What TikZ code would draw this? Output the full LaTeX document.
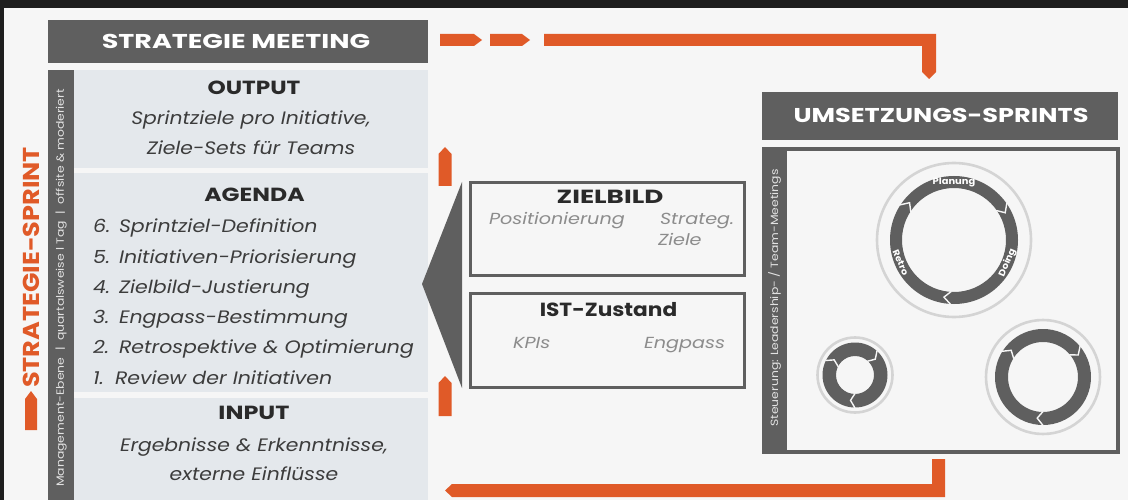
\documentclass[tikz,border=0pt]{standalone}
\usepackage{fontspec}
\usepackage{graphicx}
\setmainfont{Poppins}
\usetikzlibrary{calc}
\definecolor{bg}{HTML}{F6F6F6}
\definecolor{topbar}{HTML}{1E1E1E}
\definecolor{boxgray}{HTML}{5F5F5F}
\definecolor{panel}{HTML}{E4E8EC}
\definecolor{orng}{HTML}{E05A28}
\definecolor{txt}{HTML}{2A2A2A}
\definecolor{itxt}{HTML}{3C3C3C}
\definecolor{ltxt}{HTML}{8C8C8C}
\definecolor{ringlight}{HTML}{D4D4D4}
\definecolor{striptxt}{HTML}{E2E2E2}
\newcommand\sx[2]{\scalebox{#1}[1]{#2}}
\newcommand\cycring[7]{%
  % #1 name, #2 center, #3 light radius, #4 outer, #5 inner, #6 notch angles, #7 delta
  \coordinate (#1) at #2;
  \pgfmathsetmacro\rmid{(#4+#5)/2}%
  \pgfmathsetmacro\rout{#4+0.5}%
  \pgfmathsetmacro\rin{#5-0.5}%
  \draw[ringlight, line width=2.6pt] (#1) circle (#3pt);
  \fill[boxgray, even odd rule] (#1) circle (#4pt) (#1) circle (#5pt);
  \foreach \a in {#6}{
    \pgfmathsetmacro\b{\a-#7}%
    \draw[bg, line width=1.4pt, line join=miter]
      ($(#1)+(\a:\rout pt)$) -- ($(#1)+(\b:\rmid pt)$) -- ($(#1)+(\a:\rin pt)$);
  }%
}
\begin{document}
\begin{tikzpicture}[x=1pt,y=-1pt,
  txtnode/.style={inner sep=0pt, outer sep=0pt, anchor=base},
  hdr/.style={txtnode, text=white, font=\fontsize{20}{22}\selectfont\bfseries},
  head/.style={txtnode, text=txt, font=\fontsize{19}{22}\selectfont\bfseries},
  itl/.style={txtnode, text=itxt, font=\fontsize{18}{22}\selectfont\itshape},
  lit/.style={txtnode, text=ltxt, font=\fontsize{16}{18}\selectfont\itshape, anchor=base west},
  darkbox/.style={fill=boxgray, inner sep=0pt, outer sep=0pt},
  panelbox/.style={fill=panel, inner sep=0pt, outer sep=0pt},
  framebox/.style={draw=boxgray, line width=3pt, fill=bg, inner sep=0pt, outer sep=0pt},
  striplabel/.style={inner sep=0pt, text=striptxt, font=\fontsize{10.5}{12}\selectfont, rotate=90},
  orngfill/.style={fill=orng},
  ringlabel/.style={inner sep=0pt, text=white, font=\fontsize{9}{10}\selectfont\bfseries}
]
\useasboundingbox (0,0) rectangle (1128,500);
\fill[bg] (0,0) rectangle (1128,500);
\fill[topbar] (0,0) rectangle (1128,8);
\fill[topbar] (0,0) rectangle (4,500);

% ---- left column ----
\node[darkbox, minimum width=380pt, minimum height=43pt] (meeting) at (238,41.5) {};
\node[hdr] at (236,48.5) {\sx{1.35}{STRATEGIE MEETING}};

\node[darkbox, minimum width=26pt, minimum height=430pt] (lstrip) at (61,285) {};
\node[striplabel] at (61,288) {\sx{1.18}{Management-Ebene\ \ |\ \ quartalsweise l Tag\ \ |\ \ offsite \& moderiert}};

\node[panelbox, minimum width=354pt, minimum height=98pt] (outp) at (251,119) {};
\node[panelbox, minimum width=354pt, minimum height=219pt] (agenda) at (251,282.5) {};
\node[panelbox, minimum width=354pt, minimum height=102pt] (inp) at (251,449) {};

\node[head] at (254,94.5) {\sx{1.22}{OUTPUT}};
\node[itl] at (251,124.5) {\sx{1.13}{Sprintziele pro Initiative,}};
\node[itl] at (251,154.5) {\sx{1.13}{Ziele-Sets für Teams}};

\node[head] at (254.5,201.5) {\sx{1.24}{AGENDA}};
\foreach \n/\t/\y/\xx in {6./Sprintziel-Definition/226/119, 5./Initiativen-Priorisierung/257/119,
  4./Zielbild-Justierung/287/119, 3./Engpass-Bestimmung/317/119,
  2./Retrospektive \& Optimierung/347/119, 1./Review der Initiativen/378/115}{
  \node[itl, anchor=base west] at (93,\y+6.5) {\sx{1.14}{\n}};
  \node[itl, anchor=base west] at (\xx,\y+6.5) {\sx{1.14}{\t}};
}

\node[head] at (254,419.5) {\sx{1.26}{INPUT}};
\node[itl] at (254,451.5) {\sx{1.13}{Ergebnisse \& Erkenntnisse,}};
\node[itl] at (254,480.5) {\sx{1.13}{externe Einflüsse}};

\node[inner sep=0pt, text=orng, font=\fontsize{23}{26}\selectfont\bfseries, rotate=90] (ssprint) at (31.5,267.5) {\sx{1.11}{STRATEGIE-SPRINT}};
\fill[orngfill] (25,430) -- (25,399) -- (31,391) -- (37,399) -- (37,430) -- cycle;

% ---- middle ----
\fill[boxgray] (462,182) -- (422,284) -- (462,388) -- cycle;
\node[framebox, minimum width=274pt, minimum height=93pt] (zielbild) at (607.5,229) {};
\node[framebox, minimum width=274pt, minimum height=94pt] (ist) at (607.5,340.5) {};
\node[head] at (610,203.5) {\sx{1.38}{ZIELBILD}};
\node[lit] at (489,224.5) {\sx{1.2}{Positionierung}};
\node[lit] at (660,224.5) {\sx{1.2}{Strateg.}};
\node[lit] at (658,245) {\sx{1.2}{Ziele}};
\node[head] at (608.5,316.5) {\sx{1.14}{IST-Zustand}};
\node[lit] at (513,348) {\sx{1.2}{KPIs}};
\node[lit] at (644,348) {\sx{1.2}{Engpass}};

% small up arrows
\fill[orngfill] (438.5,186) -- (438.5,154) -- (445,147) -- (451.5,154) -- (451.5,186) -- cycle;
\fill[orngfill] (438.5,416) -- (438.5,383) -- (445,376) -- (451.5,383) -- (451.5,416) -- cycle;

% ---- right ----
\node[darkbox, minimum width=356pt, minimum height=48pt] (umsetz) at (940,116) {};
\node[hdr] at (941,123) {\sx{1.28}{UMSETZUNGS-SPRINTS}};

\node[darkbox, minimum width=358pt, minimum height=307pt] (frame) at (941,300.5) {};
\fill[bg] (787,151) rectangle (1116,450);
\node[striplabel] at (774.5,298) {\sx{1.18}{Steuerung: Leadership- / Team-Meetings}};

\cycring{c1}{(954,240)}{77}{64}{52}{35,147,267}{7}
\node[ringlabel] at ($(c1)+(90:58pt)$) {\sx{1.1}{Planung}};
\node[ringlabel, rotate=67] at ($(c1)+(-23:58pt)$) {\sx{1.1}{Doing}};
\node[ringlabel, rotate=-67] at ($(c1)+(203:58pt)$) {\sx{1.1}{Retro}};
\cycring{c2}{(855,375)}{37.5}{32.5}{19}{48,154,270}{10}
\cycring{c3}{(1043,377)}{57}{48}{35}{40,148,270}{8}

% ---- connectors ----
\fill[orngfill] (440,34) -- (474,34) -- (482,40) -- (474,46) -- (440,46) -- cycle;
\fill[orngfill] (490,34) -- (522,34) -- (530,40) -- (522,46) -- (490,46) -- cycle;
\fill[orngfill] (544,34) -- (936,34) -- (936,72) -- (929,79) -- (922,72) -- (922,46) -- (544,46) -- cycle;
\fill[orngfill] (932,459) -- (945,459) -- (945,497) -- (452,497) -- (445,490.5) -- (452,484) -- (932,484) -- cycle;
\end{tikzpicture}
\end{document}
